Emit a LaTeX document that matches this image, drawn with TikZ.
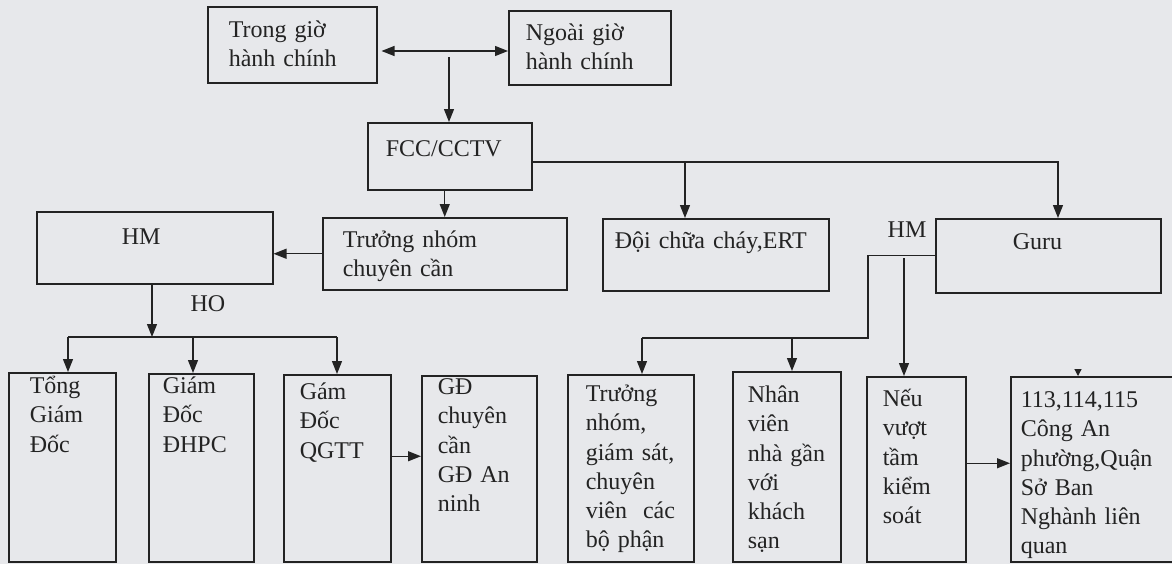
\documentclass[tikz,border=0pt]{standalone}
\usepackage{fontspec}
\setmainfont{Liberation Serif}
\usetikzlibrary{positioning,calc,arrows.meta}
\definecolor{scanbg}{RGB}{231,232,235}
\definecolor{ink}{RGB}{35,35,35}

\begin{document}
\begin{tikzpicture}[x=0.5pt,y=-0.5pt,color=ink,line width=0.65pt,
                    >={Triangle[length=6.5pt,width=5pt]},
                    every node/.style={font=\fontsize{12}{14.6}\selectfont},
                    box node/.style={draw,line width=0.75pt,anchor=north west,align=left,inner ysep=0pt}
                   ]
  \useasboundingbox (0,0) rectangle (1172,564);
  \fill[scanbg] (0,0) rectangle (1172,564);

  \node[box node,text width=63.5pt,inner xsep=10.5pt,text height=15.5pt,text depth=22.5pt] (trong) at (207,6) {Trong giờ\\hành chính};
  \node[box node,text width=64pt,inner xsep=8.5pt,text height=15pt,text depth=22pt] (ngoai) at (508,10) {Ngoài giờ\\hành chính};
  \node[box node,text width=64pt,inner xsep=9pt,text height=17pt,text depth=16.5pt] (fcc) at (367,122) {FCC/CCTV};
  \node[box node,text width=33pt,inner xsep=42.5pt,text height=16.5pt,text depth=19.5pt] (hm) at (36,211) {HM};
  \node[box node,text width=102pt,inner xsep=10pt,text height=15pt,text depth=21pt] (truong) at (322,217) {Trưởng nhóm\\chuyên cần};
  \node[box node,text width=101pt,inner xsep=6pt,text height=15pt,text depth=21pt] (doi) at (602,218) {Đội~chữa~cháy,ERT};
  \node[box node,text width=35.5pt,inner xsep=38.5pt,text height=15.5pt,text depth=21.5pt] (guru) at (935,218) {Guru};

  \node (ho) at (208,304) {HO};
  \node (hmlabel) at (907,230) {HM};

  \node[box node,text width=32.5pt,inner xsep=10.5pt,text height=10.5pt,text depth=84pt] (tong) at (8,372) {Tổng\\Giám\\Đốc};
  \node[box node,text width=38.5pt,inner xsep=7pt,text height=10pt,text depth=84pt] (giam) at (148,373) {Giám\\Đốc\\ĐHPC};
  \node[box node,text width=37.5pt,inner xsep=8pt,text height=12.5pt,text depth=81pt] (qgtt) at (283,374) {Gám\\Đốc\\QGTT};
  \node[box node,text width=41.5pt,inner xsep=8pt,text height=9.5pt,text depth=83.5pt] (gdcc) at (421,375) {GĐ\\chuyên\\cần\\GĐ~An\\ninh};
  \node[box node,text width=45pt,inner xsep=9pt,text height=13.5pt,text depth=80pt] (tn) at (567,374) {Trưởng\\nhóm,\\giám~sát,\\chuyên\\viên~~các\\bộ~phận};
  \node[box node,text width=39pt,inner xsep=7.5pt,text height=15.5pt,text depth=79.5pt] (nv) at (732,371) {Nhân\\viên\\nhà~gần\\với\\khách\\sạn};
  \node[box node,text width=33.5pt,inner xsep=8pt,text height=15pt,text depth=77.5pt] (neu) at (866,376) {Nếu\\vượt\\tầm\\kiểm\\soát};
  \node[box node,text width=75pt,inner xsep=5pt,text height=15.5pt,text depth=77pt] (cong) at (1010,376) {113,114,115\\Công~An\\phường,Quận\\Sở~Ban\\Nghành~liên\\quan};

  \coordinate (jn) at (449,51);
  \coordinate (bus) at (1058,162);
  \coordinate (tapdoi) at (685,162);
  \coordinate (hobus) at (152,337);
  \coordinate (hmbus) at (868,338);
  \coordinate (hmleft) at (642,338);
  \coordinate (tapnv) at (792,338);
  \coordinate (hmtop) at (904,258);
  \coordinate (stub) at (1078,369);

  \draw[<->,shorten <=2pt] (trong.east |- jn) -- (ngoai.west |- jn);
  \draw[->] ($(jn)+(0,6)$) -- (jn |- fcc.north);
  \draw[->] (truong.north |- fcc.south) -- (truong.north);
  \draw[->] (truong.west) -- (truong.west -| hm.east);
  \draw[->] (fcc.east |- bus) -- (bus) -- (bus |- guru.north);
  \draw[->] (tapdoi) -- (tapdoi |- doi.north);

  \draw[->] (hm.south -| hobus) -- (hobus);
  \draw (68,337) -- (337,337);
  \foreach \n/\x in {tong/68,giam/193,qgtt/337}
    \draw[->] (\x,337) -- (\n.north -| \x,337);
  \draw[->] ([yshift=6pt]qgtt.east) -- ([yshift=6pt]qgtt.east -| gdcc.west);

  \draw (guru.west) -| (hmbus) -- (hmleft);
  \draw[->] (hmleft) -- (hmleft |- tn.north);
  \draw[->] (tapnv) -- (tapnv |- nv.north);
  \draw[->] (hmtop) -- (hmtop |- neu.north);
  \draw[->] ([yshift=3pt]neu.east) -- ([yshift=3pt]neu.east -| cong.west);
  \draw[-{Triangle[length=3.5pt,width=3.5pt]}] (stub) -- (stub |- cong.north);
\end{tikzpicture}
\end{document}
